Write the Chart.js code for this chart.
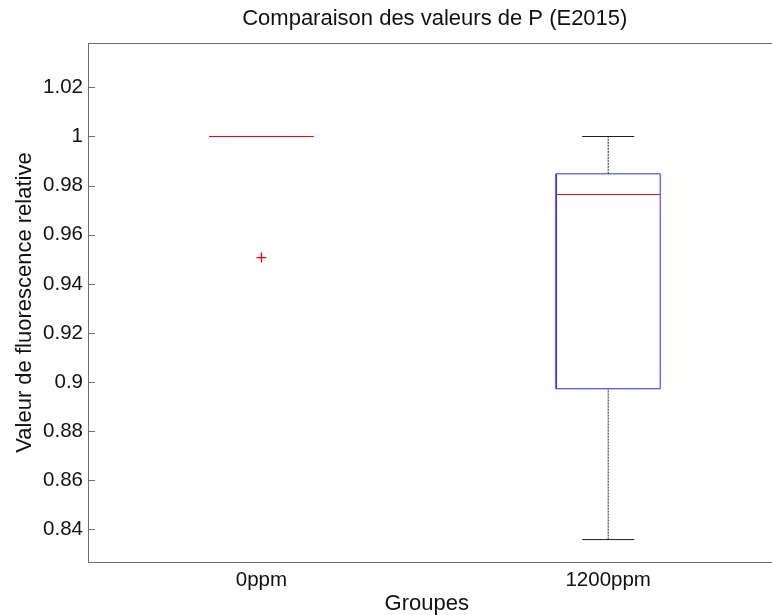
<!DOCTYPE html>
<html>
<head>
<meta charset="utf-8">
<script src="https://cdn.jsdelivr.net/npm/chart.js@4/dist/chart.umd.min.js"></script>
<style>
  html, body { margin: 0; padding: 0; background: #fff; overflow: hidden; }
  #wrap { width: 772px; height: 615px; }
</style>
</head>
<body>
<div id="wrap"><canvas id="c" width="772" height="615"></canvas></div>
<script>
// ---- data ----
const groups      = ['0ppm', '1200ppm'];
const whiskerLow  = [1.0, 0.8359];
const q1          = [1.0, 0.8973];
const median      = [1.0, 0.9764];
const q3          = [1.0, 0.9848];
const whiskerHigh = [1.0, 1.0];
const outliers    = [[0.9507], []];
const yTicks      = [0.84, 0.86, 0.88, 0.90, 0.92, 0.94, 0.96, 0.98, 1.00, 1.02];

const title  = 'Comparaison des valeurs de P (E2015)';
const xTitle = 'Groupes';
const yTitle = 'Valeur de fluorescence relative';

const FONT = '"Liberation Sans", Arial, Helvetica, sans-serif';
const BOX_HALF = 0.15, CAP_HALF = 0.075;
const PX_PER_GROUP = 347;   // horizontal spacing of the groups (the reference axis is cropped on the right)
const blue = 'rgb(40,40,255)', red = 'rgb(255,0,0)', black = 'rgb(30,30,30)';

// build datasets from the arrays
const datasets = [];
groups.forEach((g, i) => {
  const x = i + 1;
  datasets.push({ data: [{x: x - BOX_HALF, y: median[i]}, {x: x + BOX_HALF, y: median[i]}],
    borderColor: red, order: 0 });
  datasets.push({ data: [{x: x - BOX_HALF, y: q1[i]}, {x: x + BOX_HALF, y: q1[i]},
    {x: x + BOX_HALF, y: q3[i]}, {x: x - BOX_HALF, y: q3[i]}, {x: x - BOX_HALF, y: q1[i]}],
    borderColor: blue, order: 1 });
  datasets.push({ data: [{x: x, y: q3[i]}, {x: x, y: whiskerHigh[i]}],
    borderColor: black, borderDash: [2, 1], order: 2 });
  datasets.push({ data: [{x: x, y: whiskerLow[i]}, {x: x, y: q1[i]}],
    borderColor: black, borderDash: [2, 1], order: 2 });
  datasets.push({ data: [{x: x - CAP_HALF, y: whiskerHigh[i]}, {x: x + CAP_HALF, y: whiskerHigh[i]}],
    borderColor: black, order: 3 });
  datasets.push({ data: [{x: x - CAP_HALF, y: whiskerLow[i]}, {x: x + CAP_HALF, y: whiskerLow[i]}],
    borderColor: black, order: 3 });
  if (outliers[i].length) {
    datasets.push({ data: outliers[i].map(v => ({x: x, y: v})), showLine: false,
      pointStyle: 'cross', pointRadius: 5, borderColor: red, backgroundColor: red,
      pointBorderColor: red, pointBackgroundColor: red, pointBorderWidth: 1.4,
      borderWidth: 1.4, order: 0 });
  }
});
datasets.forEach(d => {
  if (d.showLine === undefined) d.showLine = true;
  if (d.pointRadius === undefined) d.pointRadius = 0;
  if (d.borderWidth === undefined) d.borderWidth = 1;
  d.fill = false;
});

const axisColor = 'rgb(110,110,110)';
const framePlugin = {
  id: 'frame',
  afterDraw(chart) {
    const {ctx, chartArea: a, scales} = chart;
    ctx.save();
    ctx.strokeStyle = axisColor;
    ctx.lineWidth = 1;
    ctx.beginPath();
    ctx.moveTo(a.left, Math.round(a.top) + 0.5);
    ctx.lineTo(chart.width, Math.round(a.top) + 0.5);
    ctx.moveTo(a.left, Math.round(a.bottom) + 0.5);
    ctx.lineTo(chart.width, Math.round(a.bottom) + 0.5);
    yTicks.forEach(v => {
      const y = Math.round(scales.y.getPixelForValue(v)) + 0.5;
      ctx.moveTo(a.left, y);
      ctx.lineTo(a.left + 7, y);
    });
    ctx.stroke();
    // title, centred over the full (uncropped) axis range
    ctx.fillStyle = '#111';
    ctx.font = '22px ' + FONT;
    ctx.textAlign = 'center';
    ctx.textBaseline = 'middle';
    ctx.fillText(title, scales.x.getPixelForValue(1.5), 19);
    ctx.restore();
  }
};

new Chart(document.getElementById('c'), {
  type: 'scatter',
  data: { datasets },
  options: {
    responsive: false,
    animation: false,
    events: [],
    layout: { padding: { top: 43, left: 0, right: 0, bottom: 0 } },
    plugins: {
      legend: { display: false },
      tooltip: { enabled: false },
      title: { display: false }
    },
    scales: {
      x: {
        type: 'linear', min: 0.5, max: 2.4539,
        afterDataLimits: s => { if (s.width > 0) { s.min = 0.5; s.max = 0.5 + s.width / PX_PER_GROUP; } },
        afterBuildTicks: s => { s.ticks = groups.map((g, i) => ({ value: i + 1 })); },
        afterFit: s => { s.height = 53; },
        ticks: { callback: v => groups[Math.round(v) - 1] ?? '', color: '#111',
          font: { family: FONT, size: 20.5 }, padding: 6, maxRotation: 0, autoSkip: false },
        grid: { display: true, drawOnChartArea: false, drawTicks: false },
        border: { display: true, color: axisColor, width: 1 },
        title: { display: true, text: xTitle, color: '#111',
          font: { family: FONT, size: 22, lineHeight: 1.0 }, padding: { top: 0, bottom: 0 } }
      },
      y: {
        type: 'linear', min: 0.826768, max: 1.038066,
        afterBuildTicks: s => { s.ticks = yTicks.map(v => ({ value: v })); },
        afterFit: s => { s.width = 88; },
        ticks: { callback: v => String(parseFloat(Number(v).toFixed(2))), color: '#111',
          font: { family: FONT, size: 20.5 }, padding: 5 },
        grid: { display: true, drawOnChartArea: false, drawTicks: false },
        border: { display: true, color: axisColor, width: 1 },
        title: { display: true, text: yTitle, color: '#111',
          font: { family: FONT, size: 22 }, padding: { top: 12, bottom: 0 } }
      }
    }
  },
  plugins: [framePlugin]
});
</script>
</body>
</html>
